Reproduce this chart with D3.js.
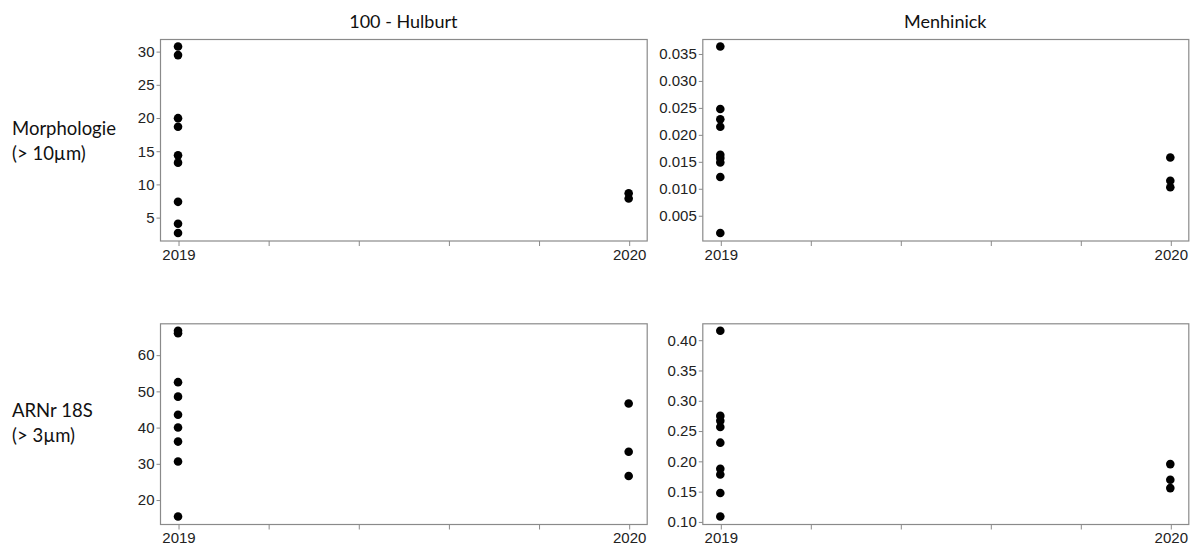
<!DOCTYPE html>
<html>
<head>
<meta charset="utf-8">
<script src="https://cdn.jsdelivr.net/npm/d3@7"></script>
<style>
  html, body { margin: 0; padding: 0; background: #fff; }
  svg { display: block; }
  .tick text { font-family: "Liberation Sans", Arial, Helvetica, sans-serif !important; }
</style>
</head>
<body>
<svg id="chart" width="1198" height="549"></svg>
<script>
// ---- data ----
const years = [2019, 2020];
const columnTitles = ["100 - Hulburt", "Menhinick"];
const rowTitles = [["Morphologie", "(> 10µm)"], ["ARNr 18S", "(> 3µm)"]];

const hulburtMorph2019 = [30.7, 29.4, 19.9, 18.6, 14.3, 13.2, 7.3, 4.0, 2.6];
const hulburtMorph2020 = [8.6, 7.8];
const menhinickMorph2019 = [0.0363, 0.0247, 0.0228, 0.0214, 0.0162, 0.0156, 0.0148, 0.0121, 0.0017];
const menhinickMorph2020 = [0.0157, 0.0114, 0.0102];
const hulburtArn2019 = [66.6, 65.9, 52.4, 48.4, 43.4, 39.9, 36.0, 30.5, 15.3];
const hulburtArn2020 = [46.5, 33.2, 26.5];
const menhinickArn2019 = [0.4148, 0.2742, 0.2660, 0.2560, 0.2300, 0.1870, 0.1775, 0.1468, 0.1080];
const menhinickArn2020 = [0.1946, 0.1688, 0.1550];

const xTicks = [2019, 2019.2, 2019.4, 2019.6, 2019.8, 2020];
const xTickLabels = ["2019", "", "", "", "", "2020"];
const yTicksHulburtMorph = [5, 10, 15, 20, 25, 30];
const yTicksMenhinickMorph = [0.005, 0.010, 0.015, 0.020, 0.025, 0.030, 0.035];
const yTicksHulburtArn = [20, 30, 40, 50, 60];
const yTicksMenhinickArn = [0.10, 0.15, 0.20, 0.25, 0.30, 0.35, 0.40];

const panels = [
  { row: 0, col: 0, v2019: hulburtMorph2019, v2020: hulburtMorph2020, ticks: yTicksHulburtMorph, fmt: d3.format("d") },
  { row: 0, col: 1, v2019: menhinickMorph2019, v2020: menhinickMorph2020, ticks: yTicksMenhinickMorph, fmt: d3.format(".3f") },
  { row: 1, col: 0, v2019: hulburtArn2019, v2020: hulburtArn2020, ticks: yTicksHulburtArn, fmt: d3.format("d") },
  { row: 1, col: 1, v2019: menhinickArn2019, v2020: menhinickArn2020, ticks: yTicksMenhinickArn, fmt: d3.format(".2f") }
];

// ---- layout ----
const colX = [[160, 646.7], [702.3, 1188.3]];
const rowY = [[39, 240.5], [323.3, 524]];
const frameColor = "#8a8a8a";
const tickFont = "'Liberation Sans', Arial, Helvetica, sans-serif";
const titleFont = "Lato, 'Open Sans', sans-serif";

const svg = d3.select("#chart");

function padDomain(ext) {
  const r = ext[1] - ext[0];
  return [ext[0] - 0.04 * r, ext[1] + 0.04 * r];
}

panels.forEach(p => {
  const [x0, x1] = colX[p.col];
  const [y0, y1] = rowY[p.row];
  const x = d3.scaleLinear().domain(padDomain(d3.extent(years))).range([x0, x1]);
  const all = p.v2019.concat(p.v2020);
  const y = d3.scaleLinear().domain(padDomain(d3.extent(all))).range([y1, y0]);

  const g = svg.append("g");

  g.append("rect")
    .attr("x", x0 + 0.5).attr("y", y0 + 0.5)
    .attr("width", x1 - x0).attr("height", y1 - y0)
    .attr("fill", "none").attr("stroke", frameColor).attr("stroke-width", 1.2);

  const xAxis = d3.axisBottom(x).tickValues(xTicks)
    .tickFormat((d, i) => xTickLabels[i]).tickSize(5).tickPadding(3).tickSizeOuter(0);
  const gx = g.append("g").attr("transform", `translate(0.5,${y1 + 0.5})`).call(xAxis)
    .attr("font-family", tickFont).attr("font-size", 15);
  gx.select(".domain").remove();
  gx.selectAll(".tick line").attr("stroke", frameColor);
  gx.selectAll(".tick text").style("font-family", tickFont).style("font-size", "15px").attr("fill", "#222");

  const yAxis = d3.axisLeft(y).tickValues(p.ticks).tickFormat(p.fmt)
    .tickSize(4).tickPadding(2).tickSizeOuter(0);
  const gy = g.append("g").attr("transform", `translate(${x0 + 0.5},0.5)`).call(yAxis)
    .attr("font-family", tickFont).attr("font-size", 15);
  gy.select(".domain").remove();
  gy.selectAll(".tick line").attr("stroke", frameColor);
  gy.selectAll(".tick text").style("font-family", tickFont).style("font-size", "15px").attr("fill", "#222");

  const pts = p.v2019.map(v => ({ yr: years[0], v }))
    .concat(p.v2020.map(v => ({ yr: years[1], v })));
  g.selectAll("circle.pt").data(pts).enter().append("circle")
    .attr("class", "pt")
    .attr("cx", d => x(d.yr))
    .attr("cy", d => y(d.v))
    .attr("r", 4.3)
    .attr("fill", "#000");
});

columnTitles.forEach((t, i) => {
  svg.append("text")
    .attr("x", (colX[i][0] + colX[i][1]) / 2)
    .attr("y", 28)
    .attr("text-anchor", "middle")
    .attr("font-family", titleFont)
    .attr("font-size", 18)
    .attr("fill", "#111")
    .text(t);
});

const rowBase = [135, 417];
rowTitles.forEach((lines, r) => {
  lines.forEach((t, k) => {
    svg.append("text")
      .attr("x", 12)
      .attr("y", rowBase[r] + k * 25)
      .attr("font-family", titleFont)
      .attr("font-size", 18.5)
      .attr("fill", "#111")
      .text(t);
  });
});
</script>
</body>
</html>
